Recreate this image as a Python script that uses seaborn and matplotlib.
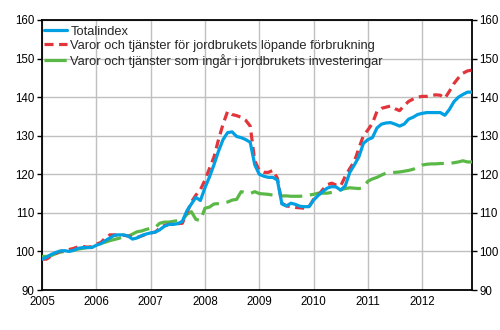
import numpy as np
import pandas as pd
import matplotlib
matplotlib.use("Agg")
import matplotlib.pyplot as plt
import seaborn as sns

years = ["2005", "2006", "2007", "2008", "2009", "2010", "2011", "2012"]
yticks = [90, 100, 110, 120, 130, 140, 150, 160]

labels = ["Totalindex",
          "Varor och tjänster för jordbrukets löpande förbrukning",
          "Varor och tjänster som ingår i jordbrukets investeringar"]

totalindex = [
    98.0, 98.5, 99.2, 99.7, 100.1, 100.2, 100.0, 100.3, 100.8, 101.0, 101.0, 101.0,
    101.6, 102.0, 102.8, 103.5, 104.2, 104.3, 104.3, 104.0, 103.2, 103.5, 104.1, 104.5,
    104.8, 105.0, 105.6, 106.5, 107.0, 107.0, 107.2, 107.8, 110.5, 112.3, 114.0, 113.2,
    116.5, 119.3, 122.5, 126.0, 129.0, 130.8, 131.0, 129.8, 129.5, 129.0, 128.3, 122.5,
    120.0, 119.5, 119.2, 119.2, 118.5, 112.3, 111.8, 112.5, 112.2, 111.7, 111.6, 111.6,
    113.3, 114.5, 115.5, 116.4, 116.8, 116.7, 115.9, 117.0, 120.5, 122.4, 124.5, 128.0,
    129.0, 129.5, 132.0, 133.0, 133.3, 133.4, 133.0, 132.5, 133.0, 134.3, 134.8, 135.5,
    135.8, 136.0, 136.0, 136.0, 136.0, 135.3, 136.8, 138.8, 140.0, 140.7, 141.3, 141.3,
]

lopande = [
    98.0, 98.0, 98.8, 99.5, 100.0, 100.2, 100.5, 100.8, 101.2, 101.3, 101.1, 101.2,
    101.9, 102.3, 103.5, 104.3, 104.3, 104.1, 104.2, 104.0, 103.8, 103.6, 104.0, 104.5,
    104.8, 105.0, 106.0, 106.7, 107.0, 107.0, 107.2, 107.3, 110.0, 112.8, 114.6, 116.0,
    118.5, 121.5, 124.5, 129.0, 133.0, 136.3, 135.5, 135.2, 134.8, 134.0, 132.5, 123.5,
    121.0, 120.5, 120.5, 121.0, 119.0, 112.5, 111.8, 111.6, 111.4, 111.3, 111.2, 111.6,
    113.5, 114.5, 116.0, 117.3, 117.7, 117.2, 117.0, 119.5, 121.5, 123.3, 126.7, 130.0,
    131.5, 133.2, 136.3, 137.1, 137.4, 137.7, 137.0, 136.5, 137.8, 138.9, 139.5, 140.0,
    140.2, 140.2, 140.4, 140.6, 140.5, 139.7, 141.5, 143.5, 145.0, 146.2, 146.8, 147.0,
]

investeringar = [
    98.7, 98.7, 98.9, 99.4, 99.8, 100.0, 100.1, 100.3, 100.6, 100.8, 101.0, 101.1,
    101.8, 102.1, 102.4, 102.8, 103.1, 103.4, 103.8, 103.9, 104.5, 105.1, 105.3, 105.7,
    106.0, 106.2, 107.3, 107.6, 107.6, 107.8, 108.0, 108.1, 109.6, 110.3, 108.3, 108.0,
    111.2, 111.5, 112.3, 112.4, 112.5, 112.8, 113.3, 113.5, 115.5, 115.2, 115.0, 115.5,
    115.0, 114.9, 114.8, 114.6, 114.5, 114.4, 114.4, 114.3, 114.3, 114.3, 114.4, 114.6,
    114.8, 115.1, 115.1, 115.1, 115.3, 115.5, 116.0, 116.3, 116.5, 116.4, 116.3, 116.5,
    118.2, 118.8, 119.2, 119.8, 120.3, 120.5, 120.5, 120.6, 120.8, 121.0, 121.3, 121.8,
    122.4, 122.6, 122.7, 122.7, 122.8, 122.8, 122.8, 123.0, 123.2, 123.5, 123.2, 123.2,
]

months = np.arange(len(totalindex))
df = pd.DataFrame({"month": months, "total": totalindex,
                   "lopande": lopande, "invest": investeringar})

sns.set_style("white")
plt.rcParams["font.family"] = ["Liberation Sans", "DejaVu Sans"]
plt.rcParams["lines.scale_dashes"] = False

fig = plt.figure(figsize=(5.0, 3.3), dpi=100)
ax = fig.add_axes([0.084, 0.1212, 0.86, 0.8182])

blue = "#00a0e3"
red = "#e1353b"
green = "#5ab946"
lw = 2.3

sns.lineplot(data=df, x="month", y="invest", ax=ax, color=green, linewidth=lw,
             linestyle=(0, (16.0, 5.5)), label=labels[2], zorder=3)
sns.lineplot(data=df, x="month", y="lopande", ax=ax, color=red, linewidth=lw,
             linestyle=(0, (6.5, 4.0)), label=labels[1], zorder=4)
sns.lineplot(data=df, x="month", y="total", ax=ax, color=blue, linewidth=lw,
             label=labels[0], zorder=5)

ax.set_xlim(0, 95)
ax.set_ylim(90, 160)
ax.set_xticks(np.arange(0, 96, 12))
ax.set_xticklabels(years)
ax.set_yticks(yticks)
ax.set_xlabel("")
ax.set_ylabel("")
ax.grid(True, color="#c0c0c0", linewidth=1.0)
ax.set_axisbelow(True)
for s in ax.spines.values():
    s.set_color("black")
    s.set_linewidth(1.3)
ax.tick_params(axis="x", length=0, labelsize=8.3, pad=4, colors="black")
ax.tick_params(axis="y", length=3.5, width=1, labelsize=8.3, pad=2, colors="black",
               left=True, right=True, labelleft=True, labelright=True, direction="out")

handles, labs = ax.get_legend_handles_labels()
order = [labs.index(l) for l in labels]
leg = ax.legend([handles[i] for i in order], [labs[i] for i in order],
                loc="upper left", bbox_to_anchor=(0.0015, 0.983),
                frameon=False, fontsize=9.3,
                handlelength=1.75, handletextpad=0.3, labelspacing=0.15,
                borderpad=0.1, borderaxespad=0.0)

fig.savefig("out.png", dpi=100)
